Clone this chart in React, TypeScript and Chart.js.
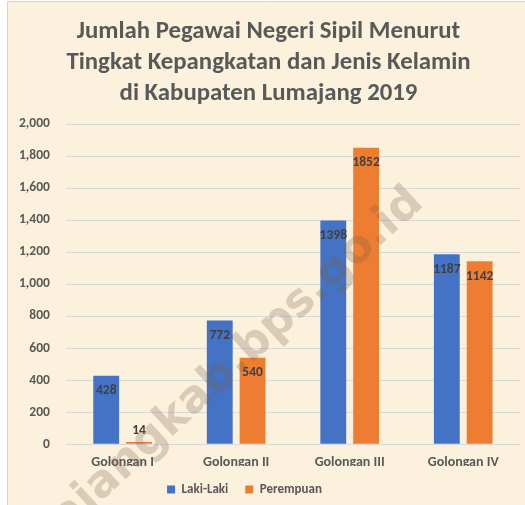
import React, { useEffect, useRef } from "react";
import { Chart, registerables } from "chart.js";

Chart.register(...registerables);

const categories = ["Golongan I", "Golongan II", "Golongan III", "Golongan IV"];
const lakiLaki = [428, 772, 1398, 1187];
const perempuan = [14, 540, 1852, 1142];
const seriesNames = ["Laki-Laki", "Perempuan"];
const titleLines = [
  "Jumlah Pegawai Negeri Sipil Menurut",
  "Tingkat Kepangkatan dan Jenis Kelamin",
  "di Kabupaten Lumajang 2019",
];
const watermarkText = "lumajangkab.bps.go.id";
const yMin = 0;
const yMax = 2000;
const yStep = 200;

const FONT = "Carlito, Calibri, Lato, sans-serif";

const backgroundPlugin = {
  id: "bgPlugin",
  beforeDraw(chart: any) {
    const { ctx, width, height } = chart;
    ctx.save();
    ctx.fillStyle = "#ffffff";
    ctx.fillRect(0, 0, width, height);
    ctx.fillStyle = "#FBF1DC";
    ctx.fillRect(8, 2, width - 8, height - 2);
    ctx.strokeStyle = "#D4D4D4";
    ctx.lineWidth = 1;
    ctx.beginPath();
    ctx.moveTo(7.5, height);
    ctx.lineTo(7.5, 1.5);
    ctx.lineTo(width, 1.5);
    ctx.stroke();
    ctx.restore();
  },
};

const boxShiftPlugin = {
  id: "boxShift",
  afterLayout(chart: any) {
    const lg = chart.legend;
    if (lg) {
      lg.left -= 17;
      lg.right -= 17;
    }
    const tb = chart.titleBlock;
    if (tb) {
      tb.left += 7;
      tb.right += 7;
    }
  },
};

const dataLabelPlugin = {
  id: "dataLabels",
  afterDatasetsDraw(chart: any) {
    const { ctx } = chart;
    ctx.save();
    ctx.font = `bold 13.5px ${FONT}`;
    ctx.fillStyle = "#404040";
    ctx.textAlign = "center";
    ctx.textBaseline = "middle";
    chart.data.datasets.forEach((ds: any, di: number) => {
      const meta = chart.getDatasetMeta(di);
      meta.data.forEach((bar: any, i: number) => {
        const v = ds.data[i];
        const h = bar.base - bar.y;
        const y = h > 28 ? bar.y + 15 : bar.y - 11;
        ctx.fillText(String(v), bar.x, y);
      });
    });
    ctx.restore();
  },
};

const watermarkPlugin = {
  id: "watermark",
  afterDraw(chart: any) {
    const { ctx } = chart;
    ctx.save();
    ctx.translate(417, 196);
    ctx.rotate(-0.742);
    ctx.font = `bold 45px "DejaVu Sans", Verdana, sans-serif`;
    ctx.fillStyle = "rgba(120, 95, 70, 0.26)";
    ctx.textAlign = "right";
    ctx.textBaseline = "middle";
    ctx.fillText(watermarkText, 0, 0);
    ctx.restore();
  },
};

export default function App() {
  const canvasRef = useRef<HTMLCanvasElement | null>(null);

  useEffect(() => {
    if (!canvasRef.current) return;
    const chart = new Chart(canvasRef.current, {
      type: "bar",
      data: {
        labels: categories,
        datasets: [
          {
            label: seriesNames[0],
            data: lakiLaki,
            backgroundColor: "#4472C4",
            categoryPercentage: 0.578,
            barPercentage: 0.788,
          },
          {
            label: seriesNames[1],
            data: perempuan,
            backgroundColor: "#ED7D31",
            categoryPercentage: 0.578,
            barPercentage: 0.788,
          },
        ],
      },
      options: {
        responsive: false,
        animation: false,
        layout: { padding: { left: 3, right: 5, top: 0, bottom: -1 } },
        plugins: {
          title: {
            display: true,
            text: titleLines,
            color: "#595959",
            font: { family: FONT, size: 24.8, weight: "bold", lineHeight: 1.25 },
            padding: { top: 16, bottom: 15 },
          },
          legend: {
            position: "bottom",
            labels: {
              boxWidth: 8,
              boxHeight: 8,
              padding: 17,
              color: "#595959",
              font: { family: FONT, size: 13, weight: "bold" },
            },
          },
          tooltip: { enabled: false },
        },
        scales: {
          x: {
            grid: { display: false, drawTicks: false },
            border: { display: false },
            afterFit: (scale: any) => {
              scale.height -= 15;
            },
            ticks: {
              color: "#595959",
              padding: 10,
              font: { family: FONT, size: 14, weight: "bold" },
            },
          },
          y: {
            min: yMin,
            max: yMax,
            grid: { color: "#D9D9D9", drawTicks: false },
            border: { display: false },
            ticks: {
              stepSize: yStep,
              padding: 16,
              color: "#595959",
              font: { family: FONT, size: 13.5, weight: "bold" },
              callback: (v: any) => Number(v).toLocaleString("en-US"),
            },
          },
        },
      },
      plugins: [backgroundPlugin, boxShiftPlugin, dataLabelPlugin, watermarkPlugin],
    });
    return () => chart.destroy();
  }, []);

  return (
    <div style={{ position: "fixed", left: 0, top: 0, width: 525, height: 505 }}>
      <canvas ref={canvasRef} width={525} height={505} style={{ display: "block" }} />
    </div>
  );
}
